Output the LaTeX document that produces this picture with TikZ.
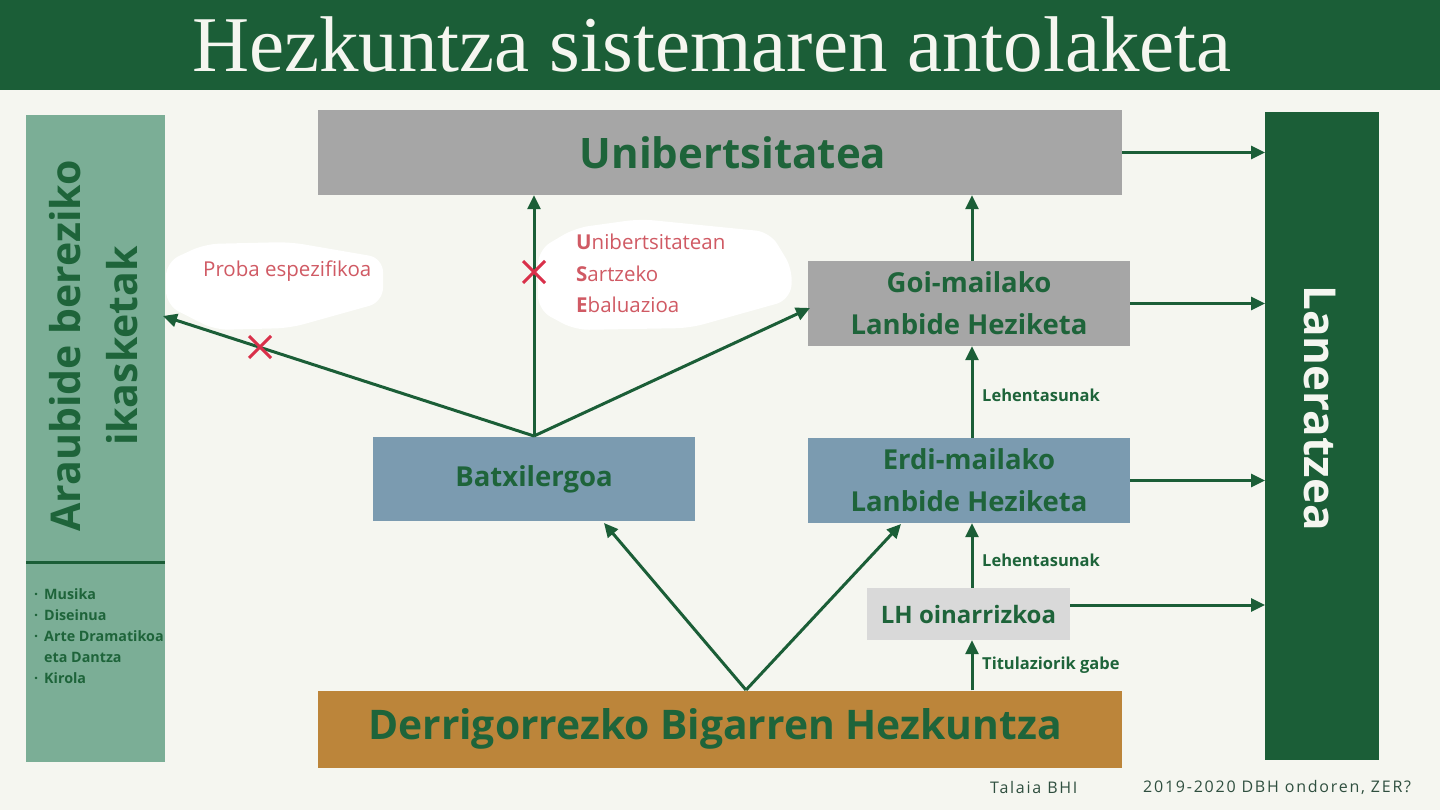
\documentclass[tikz,border=0pt]{standalone}
\usepackage{fontspec}
\setmainfont{Open Sans}
\newfontfamily\titlefont{Liberation Serif}
\newfontfamily\footfont[LetterSpace=11]{Open Sans}
\usetikzlibrary{arrows.meta}
\definecolor{bg}{HTML}{F5F6F0}
\definecolor{dgreen}{HTML}{1B5E37}
\definecolor{tgreen}{HTML}{1E643A}
\definecolor{lgreen}{HTML}{7BAE96}
\definecolor{boxgray}{HTML}{A6A6A6}
\definecolor{boxblue}{HTML}{7B9BB0}
\definecolor{boxlight}{HTML}{D9D9D9}
\definecolor{boxgold}{HTML}{BC853A}
\definecolor{redtxt}{HTML}{D05A64}
\definecolor{redx}{HTML}{D9304A}
\definecolor{foot}{HTML}{2F4F3F}
\tikzset{
  box/.style={inner sep=0pt, align=center, text=tgreen, font=\bfseries},
  conn/.style={draw=dgreen, line width=3pt, -{Triangle[length=14pt,width=13pt]}},
  lbl/.style={text=tgreen, font=\fontsize{16.5}{18}\selectfont\bfseries, anchor=west, inner sep=0pt},
  redlbl/.style={text=redtxt, font=\fontsize{20.5}{31.5}\selectfont, anchor=west, inner sep=0pt, align=left},
  xmark/.style={draw=redx, line width=3pt},
  bubble/.style={fill=white, draw=none, rounded corners=14pt},
  foottxt/.style={text=foot, font=\footfont\fontsize{16}{20}\selectfont, anchor=west, inner sep=0pt},
}
\begin{document}
\begin{tikzpicture}[x=1pt,y=-1pt]
\fill[bg] (0,0) rectangle (1440,810);
\useasboundingbox (0,0) rectangle (1440,810);
% banner
\fill[dgreen] (0,0) rectangle (1440,90);
\node[text=bg, font=\titlefont\fontsize{79}{88}\selectfont, inner sep=0pt] (title) at (712,44) {Hezkuntza sistemaren antolaketa};
% left panel
\node[fill=lgreen, minimum width=139pt, minimum height=647pt, inner sep=0pt, anchor=north west] (left) at (26,115) {};
\draw[dgreen, line width=3pt] (left.west |- 0,562) coordinate (sepL) -- (left.east |- 0,562) coordinate (sepR);
\node[rotate=90, text=tgreen, font=\fontsize{41}{57}\selectfont\bfseries, align=center, inner sep=0pt] (lefttxt) at (94,346) {Araubide bereziko\\ikasketak};
\node[text=tgreen, font=\fontsize{14.3}{21}\selectfont\bfseries, anchor=north west, align=left, inner sep=0pt] (list) at (34,588) {%
\makebox[10pt][l]{·}Musika\\
\makebox[10pt][l]{·}Diseinua\\
\makebox[10pt][l]{·}Arte Dramatikoa\\
\makebox[10pt][l]{}eta Dantza\\
\makebox[10pt][l]{·}Kirola};
% right panel
\node[fill=dgreen, minimum width=114pt, minimum height=648pt, inner sep=0pt, anchor=north west] (right) at (1265,112) {};
\node[rotate=-90, text=bg, font=\fontsize{44}{50}\selectfont\bfseries, inner sep=0pt] (righttxt) at (1320,408) {Laneratzea};
% boxes
\node[box, fill=boxgray, minimum width=804pt, minimum height=85pt, font=\fontsize{42}{48}\selectfont\bfseries] (uni) at (720,152.5) {\hspace*{26pt}Unibertsitatea};
\node[box, fill=boxgray, minimum width=322pt, minimum height=85pt, font=\fontsize{27.5}{42}\selectfont\bfseries] (goi) at (969,303.5) {Goi-mailako\\Lanbide Heziketa};
\node[box, fill=boxblue, minimum width=322pt, minimum height=84pt, font=\fontsize{27.5}{42}\selectfont\bfseries] (batx) at (534,479) {Batxilergoa};
\node[box, fill=boxblue, minimum width=322pt, minimum height=85pt, font=\fontsize{27.5}{42}\selectfont\bfseries] (erdi) at (969,480.5) {Erdi-mailako\\Lanbide Heziketa};
\node[box, fill=boxlight, minimum width=203pt, minimum height=52pt, font=\fontsize{24}{26}\selectfont\bfseries] (lh) at (968.5,614) {LH oinarrizkoa};
\node[box, fill=boxgold, minimum width=804pt, minimum height=77pt, font=\fontsize{40.8}{48}\selectfont\bfseries] (dbh) at (720,729) {Derrigorrezko Bigarren Hezkuntza\hspace*{10pt}};
% bubbles
\fill[bubble] (166,262) -- (205,244) -- (290,242) -- (383,258) -- (383,302) -- (290,328) -- (215,330) -- (166,305) -- cycle;
\fill[bubble] (538,250) -- (575,228) -- (640,219) -- (770,232) -- (793,270) -- (790,300) -- (690,328) -- (575,330) -- (538,310) -- cycle;
\node[redlbl] (proba) at (203,271) {Proba espezifikoa};
\node[redlbl, anchor=north west] (use) at (576,234) {\textbf{U}nibertsitatean\\\textbf{S}artzeko\\\textbf{E}baluazioa};
% coordinates
\coordinate (apex) at (746,690);
\coordinate (batxtop) at (534,436);
\coordinate (leftend) at (163,316);
\coordinate (goiend) at (810,308);
\coordinate (batxin) at (604,523);
\coordinate (erdiin) at (901,524);
% arrows
\draw[conn] (apex) -- (batxin);
\draw[conn] (apex) -- (erdiin);
\draw[conn] (batxtop) -- (batxtop |- uni.south);
\draw[conn] (batxtop) -- (leftend);
\draw[conn] (batxtop) -- (goiend);
\draw[conn] (dbh.north -| 972,0) -- (lh.south -| 972,0);
\draw[conn] (lh.north -| 972,0) -- (erdi.south -| 972,0);
\draw[conn] (erdi.north -| 972,0) -- (goi.south -| 972,0);
\draw[conn] (goi.north -| 972,0) -- (uni.south -| 972,0);
\draw[conn] (uni.east) -- (right.west |- uni.east);
\draw[conn] (goi.east) -- (right.west |- goi.east);
\draw[conn] (erdi.east) -- (right.west |- erdi.east);
\draw[conn] (lh.east |- 0,605) -- (right.west |- 0,605);
% labels
\node[lbl] (leh1) at (982,395) {Lehentasunak};
\node[lbl] (leh2) at (982,560) {Lehentasunak};
\node[lbl] (tit) at (982,665) {Titulaziorik gabe};
% red crosses
\draw[xmark] (523,261) -- (545,283) (523,283) -- (545,261);
\draw[xmark] (249,336) -- (271,358) (249,358) -- (271,336);
% footer
\node[foottxt] (f1) at (990,787) {Talaia BHI};
\node[foottxt] (f2) at (1143,787) {2019-2020 DBH ondoren, ZER?};
\end{tikzpicture}
\end{document}
